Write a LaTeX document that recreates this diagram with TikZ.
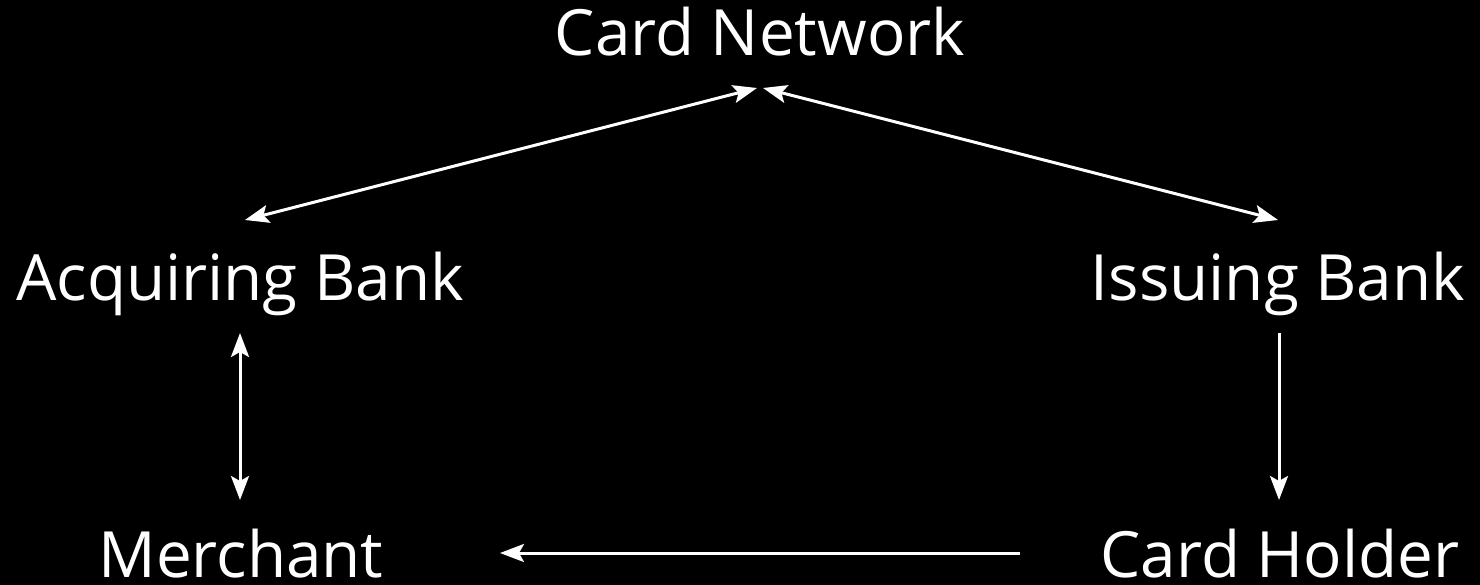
\documentclass[tikz,border=0pt]{standalone}
\usepackage{fontspec}
\setmainfont{Open Sans}
\usetikzlibrary{arrows.meta,calc}
\begin{document}
\begin{tikzpicture}[x=1pt,y=-1pt,
  label/.style={text=white,inner sep=0pt,anchor=base,font=\fontsize{63.8}{70}\selectfont},
  link/.style={draw=white,line width=3pt,
    arrows={-Stealth[length=24pt,width=18pt,inset=5pt]}},
  twoway/.style={link,arrows={Stealth[length=24pt,width=18pt,inset=5pt]-Stealth[length=24pt,width=18pt,inset=5pt]}}]
  \fill[black] (0,0) rectangle (1480,585);
  \useasboundingbox (0,0) rectangle (1480,585);

  \node[label] (net)  at (760,56)  {Card Network};
  \node[label] (acq)  at (240,301) {Acquiring Bank};
  \node[label] (iss)  at (1278,301) {Issuing Bank};
  \node[label] (mer)  at (241,577) {Merchant};
  \node[label] (hold) at (1280,577) {Card Holder};

  \draw[twoway] ($(acq.base)+(5,-81)$) -- ($(net.base)+(-3,32)$);
  \draw[twoway] ($(net.base)+(3,32)$) -- ($(iss.base)+(0,-81)$);
  \draw[twoway] ($(acq.base)+(0,32)$) -- ($(mer.base)+(-1,-77)$);
  \draw[link] ($(iss.base)+(1,32)$) -- ($(hold.base)+(-1,-77)$);
  \draw[link] ($(hold.base)+(-260,-24)$) -- ($(mer.base)+(259,-24)$);
\end{tikzpicture}
\end{document}
